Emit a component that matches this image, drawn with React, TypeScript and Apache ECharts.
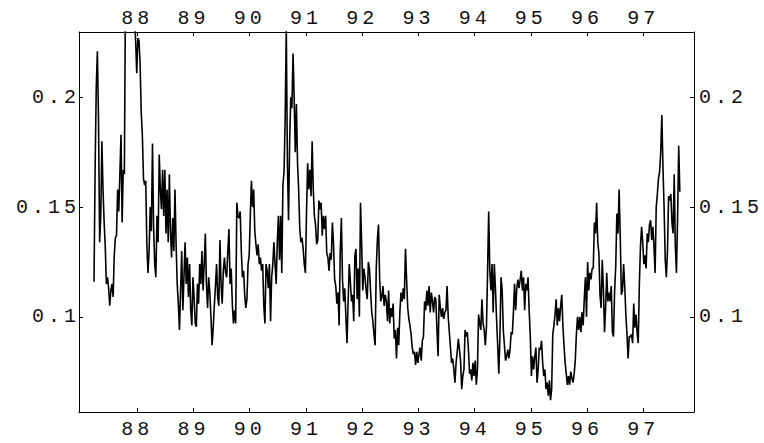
import React, { useEffect, useRef } from "react";
import * as echarts from "echarts";

// Sampling of the series: two-digit years, one observation every STEP years
const SAMPLE_START = 87.23;
const SAMPLE_STEP = 0.02;

const vol1987 = [
  0.116, 0.168, 0.205, 0.221, 0.19, 0.134, 0.146, 0.18, 0.158, 0.143,
  0.132, 0.115, 0.118, 0.113, 0.105, 0.112, 0.115, 0.109, 0.128, 0.136,
  0.137, 0.158, 0.148, 0.165, 0.183, 0.143, 0.167, 0.165, 0.25, 0.26,
  0.27, 0.265, 0.28, 0.27, 0.26, 0.255, 0.24, 0.226, 0.211,
];
const vol1988 = [
  0.227, 0.226, 0.215, 0.193, 0.183, 0.163, 0.16, 0.162, 0.133, 0.12,
  0.13, 0.15, 0.139, 0.179, 0.141, 0.124, 0.118, 0.146, 0.134, 0.174,
  0.158, 0.149, 0.167, 0.146, 0.167, 0.138, 0.158, 0.134, 0.165, 0.139,
  0.127, 0.145, 0.13, 0.158, 0.133, 0.115, 0.106, 0.094, 0.112, 0.13,
  0.103, 0.118, 0.134, 0.115, 0.127, 0.109, 0.124, 0.103, 0.096, 0.118,
];
const vol1989 = [
  0.109, 0.097, 0.0955, 0.115, 0.106, 0.124, 0.115, 0.13, 0.112, 0.124,
  0.138, 0.115, 0.104, 0.118, 0.111, 0.1, 0.087, 0.095, 0.105, 0.114,
  0.124, 0.109, 0.105, 0.135, 0.115, 0.106, 0.121, 0.127, 0.12, 0.118,
  0.13, 0.14, 0.115, 0.122, 0.106, 0.097, 0.103, 0.097, 0.152, 0.146,
  0.145, 0.148, 0.13, 0.118, 0.121, 0.11, 0.104, 0.108, 0.124, 0.128,
];
const vol1990 = [
  0.146, 0.162, 0.15, 0.158, 0.139, 0.133, 0.128, 0.133, 0.124, 0.127,
  0.121, 0.124, 0.105, 0.097, 0.124, 0.121, 0.113, 0.124, 0.098, 0.118,
  0.124, 0.134, 0.124, 0.115, 0.134, 0.146, 0.126, 0.146, 0.12, 0.16,
  0.166, 0.19, 0.232, 0.17, 0.144, 0.18, 0.2, 0.195, 0.22, 0.2,
  0.175, 0.197, 0.17, 0.158, 0.14, 0.134, 0.136, 0.131, 0.124, 0.12,
];
const vol1991 = [
  0.148, 0.17, 0.158, 0.167, 0.155, 0.18, 0.158, 0.146, 0.142, 0.133,
  0.135, 0.153, 0.149, 0.152, 0.137, 0.146, 0.14, 0.146, 0.129, 0.127,
  0.121, 0.129, 0.126, 0.143, 0.133, 0.117, 0.114, 0.106, 0.111, 0.096,
  0.13, 0.145, 0.117, 0.107, 0.113, 0.1, 0.088, 0.107, 0.124, 0.116,
  0.107, 0.11, 0.098, 0.128, 0.131, 0.108, 0.122, 0.1, 0.152, 0.134,
];
const vol1992 = [
  0.112, 0.122, 0.118, 0.112, 0.108, 0.125, 0.122, 0.111, 0.102, 0.098,
  0.092, 0.087, 0.122, 0.135, 0.142, 0.118, 0.107, 0.109, 0.114, 0.105,
  0.11, 0.107, 0.098, 0.112, 0.097, 0.104, 0.1, 0.106, 0.09, 0.094,
  0.081, 0.095, 0.087, 0.102, 0.111, 0.107, 0.113, 0.108, 0.131, 0.117,
  0.104, 0.099, 0.096, 0.092, 0.086, 0.083, 0.084, 0.078, 0.084, 0.079,
];
const vol1993 = [
  0.083, 0.086, 0.08, 0.089, 0.091, 0.107, 0.103, 0.112, 0.105, 0.114,
  0.102, 0.111, 0.107, 0.102, 0.109, 0.108, 0.094, 0.082, 0.11, 0.104,
  0.1, 0.104, 0.099, 0.102, 0.103, 0.114, 0.1, 0.093, 0.086, 0.079,
  0.081, 0.076, 0.07, 0.079, 0.084, 0.09, 0.085, 0.08, 0.067, 0.073,
  0.076, 0.094, 0.091, 0.093, 0.085, 0.074, 0.076, 0.071, 0.079, 0.073,
];
const vol1994 = [
  0.08, 0.069, 0.076, 0.101, 0.097, 0.094, 0.108, 0.097, 0.094, 0.087,
  0.095, 0.12, 0.148, 0.121, 0.112, 0.124, 0.102, 0.124, 0.113, 0.099,
  0.087, 0.074, 0.091, 0.118, 0.112, 0.094, 0.087, 0.08, 0.082, 0.085,
  0.081, 0.085, 0.093, 0.092, 0.102, 0.115, 0.103, 0.113, 0.117, 0.113,
  0.117, 0.121, 0.112, 0.118, 0.103, 0.115, 0.112, 0.118, 0.103, 0.091,
];
const vol1995 = [
  0.073, 0.082, 0.076, 0.082, 0.086, 0.07, 0.076, 0.086, 0.085, 0.089,
  0.079, 0.073, 0.076, 0.067, 0.07, 0.064, 0.071, 0.062, 0.067, 0.092,
  0.096, 0.101, 0.108, 0.096, 0.104, 0.098, 0.105, 0.11, 0.096, 0.087,
  0.079, 0.074, 0.069, 0.073, 0.069, 0.075, 0.072, 0.07, 0.074, 0.08,
  0.092, 0.1, 0.094, 0.1, 0.093, 0.102, 0.096, 0.108, 0.118, 0.1,
];
const vol1996 = [
  0.125, 0.112, 0.12, 0.117, 0.122, 0.122, 0.143, 0.138, 0.152, 0.134,
  0.129, 0.11, 0.104, 0.126, 0.113, 0.093, 0.104, 0.12, 0.107, 0.111,
  0.107, 0.114, 0.093, 0.091, 0.112, 0.123, 0.147, 0.138, 0.158, 0.137,
  0.11, 0.112, 0.124, 0.114, 0.101, 0.092, 0.081, 0.091, 0.091, 0.092,
  0.088, 0.106, 0.095, 0.101, 0.093, 0.088, 0.115, 0.132, 0.141, 0.134,
];
const vol1997 = [
  0.124, 0.128, 0.122, 0.138, 0.134, 0.142, 0.144, 0.135, 0.141, 0.132,
  0.12, 0.15, 0.156, 0.163, 0.166, 0.175, 0.192, 0.168, 0.15, 0.126,
  0.118, 0.13, 0.155, 0.153, 0.156, 0.143, 0.138, 0.165, 0.132, 0.12,
  0.145, 0.178, 0.157,
];

const xTicks = [88, 89, 90, 91, 92, 93, 94, 95, 96, 97];
const yTicks = [0.1, 0.15, 0.2];

const X_MIN = 86.963;
const X_MAX = 97.902;
const Y_MIN = 0.0566;
const Y_MAX = 0.2298;

const FONT = '"Liberation Mono", "DejaVu Sans Mono", monospace';
const INK = "#000";

function buildSeries(): [number, number][] {
  const values = [
    ...vol1987, ...vol1988, ...vol1989, ...vol1990, ...vol1991, ...vol1992,
    ...vol1993, ...vol1994, ...vol1995, ...vol1996, ...vol1997,
  ];
  return values.map((v, i) => [SAMPLE_START + i * SAMPLE_STEP, v]);
}

function xAxisDef(position: "top" | "bottom", margin: number) {
  return {
    type: "value" as const,
    position,
    min: X_MIN,
    max: X_MAX,
    axisLine: { show: true, onZero: false, lineStyle: { color: INK, width: 1 } },
    axisTick: {
      show: true,
      inside: true,
      length: 4,
      customValues: xTicks,
      lineStyle: { color: INK, width: 1 },
    },
    axisLabel: {
      show: true,
      customValues: xTicks,
      formatter: (v: number) => String(Math.round(v)),
      margin,
      color: "#111",
      fontFamily: FONT,
      fontSize: 20,
    },
    splitLine: { show: false },
  };
}

function yAxisDef(position: "left" | "right", margin: number) {
  return {
    type: "value" as const,
    position,
    min: Y_MIN,
    max: Y_MAX,
    axisLine: { show: true, onZero: false, lineStyle: { color: INK, width: 1 } },
    axisTick: {
      show: true,
      inside: true,
      length: 4,
      customValues: yTicks,
      lineStyle: { color: INK, width: 1 },
    },
    axisLabel: {
      show: true,
      customValues: yTicks,
      formatter: (v: number) => String(v),
      margin,
      color: "#111",
      fontFamily: FONT,
      fontSize: 20,
    },
    splitLine: { show: false },
  };
}

export default function App() {
  const ref = useRef<HTMLDivElement>(null);

  useEffect(() => {
    if (!ref.current) return;
    const chart = echarts.init(ref.current, undefined, { renderer: "svg" });
    chart.setOption({
      animation: false,
      backgroundColor: "#fff",
      grid: { left: 79, right: 70, top: 32, bottom: 31, containLabel: false, outerBoundsMode: "none" },
      xAxis: [xAxisDef("bottom", 7), xAxisDef("top", 4)],
      yAxis: [yAxisDef("left", -1), yAxisDef("right", 5)],
      series: [
        {
          type: "line",
          xAxisIndex: 0,
          yAxisIndex: 0,
          data: buildSeries(),
          showSymbol: false,
          symbol: "none",
          clip: true,
          lineStyle: { color: INK, width: 1.6 },
        },
      ],
    });
    return () => chart.dispose();
  }, []);

  return (
    <>
      <style>{"#vol-chart text{letter-spacing:4px}"}</style>
      <div
        id="vol-chart"
        ref={ref}
        style={{ position: "absolute", left: 0, top: 0, width: 764, height: 443, background: "#fff" }}
      />
    </>
  );
}
